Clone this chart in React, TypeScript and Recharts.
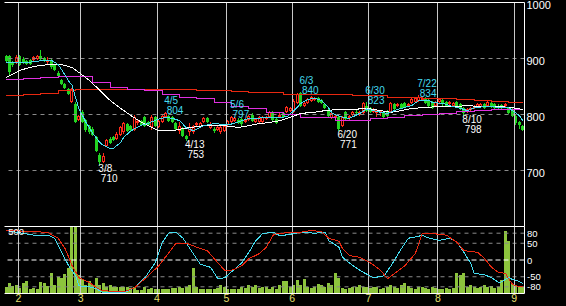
import React from 'react';
import {
  ComposedChart,
  Bar,
  Line,
  XAxis,
  YAxis,
  ReferenceLine,
  ReferenceDot
} from 'recharts';

// daily candles, late Jan .. early Sep
const opens = [
  904, 904, 893, 893, 904, 900, 896, 897, 898, 900,
  905, 901, 893, 898, 888, 875, 861, 855, 846, 822,
  818, 791, 805, 790, 780, 775, 760, 728, 716, 744,
  757, 760, 757, 763, 768, 783, 780, 773, 784, 789,
  795, 786, 778, 796, 778, 786, 795, 798, 796, 784,
  770, 775, 762, 768, 768, 782, 778, 786, 794, 776,
  775, 772, 768, 770, 781, 787, 789, 791, 792, 787,
  790, 799, 786, 787, 787, 793, 796, 804, 792, 795,
  803, 805, 806, 805, 820, 838, 816, 820, 824, 826,
  830, 826, 819, 807, 794, 793, 796, 780, 805, 793,
  800, 805, 800, 802, 816, 812, 804, 802, 802, 804,
  806, 805, 818, 815, 819, 820, 815, 820, 823, 824,
  826, 830, 826, 822, 815, 822, 826, 822, 818, 815,
  822, 818, 811, 804, 808, 812, 814, 813, 818, 815,
  820, 818, 816, 817, 815, 812, 810, 797, 786, 780
];
const highs = [
  907, 906, 896, 907, 906, 903, 898, 899, 904, 907,
  916, 903, 903, 900, 890, 877, 864, 857, 848, 847,
  822, 800, 808, 792, 782, 777, 762, 731, 732, 756,
  759, 762, 768, 779, 786, 785, 782, 800, 791, 791,
  797, 788, 800, 798, 791, 800, 804, 800, 798, 786,
  786, 777, 764, 784, 782, 787, 787, 795, 796, 786,
  777, 780, 780, 782, 791, 797, 796, 793, 794, 793,
  800, 802, 794, 797, 797, 798, 806, 806, 794, 802,
  805, 816, 814, 827, 839, 840, 823, 830, 833, 832,
  832, 828, 821, 809, 804, 800, 798, 797, 807, 799,
  806, 808, 807, 822, 823, 814, 812, 810, 808, 806,
  808, 822, 820, 820, 821, 822, 821, 829, 832, 834,
  832, 832, 828, 824, 825, 830, 828, 824, 824, 822,
  824, 820, 813, 812, 814, 817, 821, 820, 820, 824,
  822, 820, 818, 819, 820, 814, 812, 799, 788, 782
];
const lows = [
  893, 870, 885, 891, 887, 891, 889, 888, 896, 898,
  897, 894, 891, 882, 878, 866, 853, 846, 835, 820,
  784, 788, 785, 769, 766, 761, 733, 710, 713, 742,
  747, 753, 755, 761, 766, 769, 771, 770, 782, 780,
  778, 779, 772, 777, 776, 784, 793, 786, 784, 773,
  765, 760, 753, 762, 766, 780, 776, 784, 784, 774,
  767, 770, 765, 768, 779, 785, 787, 783, 778, 785,
  788, 787, 784, 785, 785, 791, 794, 788, 783, 793,
  794, 803, 804, 803, 818, 814, 814, 818, 822, 824,
  821, 818, 810, 796, 792, 791, 771, 778, 790, 791,
  798, 801, 798, 800, 805, 803, 802, 795, 798, 794,
  796, 803, 808, 813, 809, 811, 813, 818, 821, 822,
  824, 818, 813, 810, 813, 820, 816, 813, 816, 813,
  811, 808, 798, 802, 806, 810, 812, 811, 810, 813,
  812, 810, 810, 810, 813, 801, 796, 782, 775, 770
];
const closes = [
  895, 876, 888, 902, 889, 893, 891, 890, 902, 905,
  899, 896, 897, 884, 880, 868, 855, 848, 837, 845,
  787, 798, 787, 772, 768, 764, 735, 716, 726, 754,
  750, 755, 766, 777, 784, 771, 773, 795, 789, 782,
  780, 781, 795, 779, 789, 798, 803, 788, 786, 775,
  780, 762, 757, 778, 780, 785, 785, 793, 786, 783,
  771, 778, 778, 780, 789, 796, 794, 785, 783, 791,
  798, 789, 792, 795, 795, 796, 804, 790, 785, 800,
  796, 814, 812, 825, 837, 816, 821, 828, 831, 830,
  823, 820, 812, 798, 802, 798, 775, 795, 792, 797,
  804, 803, 805, 820, 807, 805, 810, 808, 806, 796,
  798, 820, 810, 818, 811, 813, 819, 827, 830, 832,
  830, 820, 815, 812, 823, 828, 818, 815, 822, 820,
  813, 810, 803, 810, 812, 815, 819, 818, 812, 822,
  814, 812, 812, 812, 818, 803, 798, 784, 781, 773
];
const volumes = [
  52, 82, 57, 60, 40, 75, 90, 32, 40, 35,
  87, 75, 57, 150, 67, 124, 112, 142, 187, 500,
  500, 137, 107, 60, 90, 60, 117, 60, 75, 45,
  60, 45, 52, 52, 52, 45, 40, 45, 25, 25,
  45, 35, 40, 35, 32, 32, 35, 32, 40, 40,
  45, 40, 45, 60, 187, 45, 32, 32, 35, 32,
  32, 40, 67, 45, 32, 35, 32, 32, 45, 40,
  60, 45, 60, 40, 52, 45, 32, 45, 35, 67,
  90, 90, 52, 60, 100, 60, 107, 45, 40, 45,
  70, 60, 52, 75, 60, 150, 112, 40, 35, 40,
  50, 45, 60, 52, 45, 40, 52, 45, 32, 40,
  45, 60, 45, 40, 60, 75, 55, 40, 35, 45,
  45, 40, 35, 45, 40, 35, 35, 40, 35, 40,
  150, 140, 150, 50, 60, 45, 40, 45, 60, 50,
  55, 40, 45, 100, 465, 390, 72, 60, 50, 45
];

// moving averages as [day, price]
const shortMa: [number, number][] = [
  [0, 893], [5, 892], [10, 896], [13, 897], [15, 889], [16, 880], [17, 870],
  [18, 860], [19, 852], [20, 830], [21, 810], [23, 786], [25, 766], [27, 750],
  [28, 745], [30, 739], [31, 740], [33, 750], [34, 760], [36, 771], [39, 781],
  [41, 784], [42, 787], [44, 792], [46, 795], [48, 793], [50, 789], [52, 776],
  [54, 771], [57, 780], [60, 784], [63, 782], [65, 783], [67, 787], [70, 793],
  [72, 793], [75, 795], [79, 795], [81, 796], [83, 807], [85, 820], [87, 827],
  [89, 829], [91, 825], [93, 812], [94, 802], [97, 795], [99, 793], [102, 802],
  [104, 810], [106, 807], [108, 804], [110, 802], [112, 807], [114, 811],
  [117, 816], [119, 825], [122, 825], [123, 821], [126, 820], [129, 814],
  [131, 811], [133, 807], [135, 812], [138, 814], [140, 814], [143, 812],
  [145, 812], [146, 807], [148, 798], [149, 789]
];
const midMa: [number, number][] = [
  [0, 866], [4, 879], [8, 886], [12, 889], [16, 889], [19, 884], [21, 875],
  [24, 861], [27, 843], [30, 825], [33, 811], [36, 798], [39, 786], [42, 777],
  [44, 771], [48, 771], [51, 775], [57, 780], [63, 780], [67, 777], [70, 780],
  [73, 784], [75, 785], [79, 789], [82, 795], [85, 802], [89, 804], [92, 807],
  [96, 809], [100, 809], [104, 811], [108, 807], [111, 804], [114, 807],
  [117, 811], [120, 812], [124, 814], [129, 814], [133, 816], [137, 814],
  [143, 814], [146, 812], [149, 809]
];
const longMa: [number, number][] = [
  [0, 862], [5, 864], [10, 866], [15, 868], [20, 867], [25, 858], [30, 849],
  [35, 845], [40, 842], [45, 836], [50, 831], [55, 828], [60, 822], [65, 815],
  [70, 810], [75, 804], [80, 800], [85, 795], [90, 794], [95, 789], [100, 789],
  [105, 792], [110, 795], [115, 798], [120, 800], [125, 802], [130, 805],
  [135, 807], [140, 809], [145, 809], [149, 809]
];
const trendMa: [number, number][] = [
  [0, 834], [5, 836], [10, 838], [15, 842], [20, 845], [25, 845], [30, 845],
  [35, 845], [40, 845], [45, 845], [50, 845], [55, 843], [60, 843], [65, 841],
  [70, 840], [75, 839], [80, 836], [85, 836], [90, 836], [95, 836], [100, 834],
  [105, 834], [110, 831], [115, 830], [120, 829], [125, 828], [130, 827],
  [135, 825], [140, 823], [145, 822], [149, 821]
];

// oscillators (-100..100)
const rciShort: [number, number][] = [
  [0, 88], [8, 74], [12, 74], [14, 65], [16, 23], [18, -17], [20, -47],
  [21, -77], [24, -80], [26, -86], [28, -98], [34, -98], [37, -83], [40, -53],
  [43, -8], [45, 52], [47, 82], [49, 83], [51, 65], [53, 34], [56, -13],
  [59, -22], [61, -56], [63, -53], [66, -26], [68, -8], [70, 23], [72, 58],
  [74, 79], [77, 83], [79, 72], [82, 77], [85, 83], [89, 80], [92, 83],
  [93, 58], [96, 38], [97, 8], [100, -17], [103, -37], [106, -53], [109, -47],
  [111, -17], [114, 34], [116, 65], [119, 71], [120, 74], [122, 65], [125, 59],
  [128, 65], [130, 53], [132, 23], [134, -10], [135, -40], [138, -44],
  [140, -53], [142, -67], [143, -65], [144, -58], [145, -52], [146, -58],
  [147, -60], [149, -70]
];
const rciLong: [number, number][] = [
  [0, 88], [8, 85], [12, 82], [15, 65], [17, 34], [19, -17], [21, -53],
  [24, -67], [27, -89], [31, -95], [34, -95], [37, -83], [41, -47], [44, -17],
  [47, 23], [49, 50], [52, 50], [55, 38], [58, 28], [60, 4], [63, -31],
  [65, -31], [68, -17], [70, 4], [73, 19], [75, 38], [77, 74], [78, 79],
  [79, 80], [85, 83], [88, 88], [91, 85], [93, 65], [96, 56], [97, 34],
  [99, 13], [102, 8], [105, -8], [108, -31], [110, -56], [112, -40],
  [115, -17], [118, 19], [120, 79], [123, 79], [127, 74], [130, 53], [132, 28],
  [136, 23], [138, 4], [140, -22], [142, -37], [144, -40], [145, -57],
  [146, -72], [147, -77], [149, -80]
];

const monthStarts = [4, 22, 44, 64, 83, 105, 125, 147];
const monthLabels = ['2', '3', '4', '5', '6', '7', '8', '9'];
const priceTicks = [1000, 900, 800, 700];
const rciTicks = [80, 50, 0, -50, -80];
const volScaleMax = 500;

const highMarks = [
  { i: 46, v: 804, d: '4/5' },
  { i: 65, v: 797, d: '5/6' },
  { i: 85, v: 840, d: '6/3' },
  { i: 104, v: 823, d: '6/30' },
  { i: 119, v: 834, d: '7/22' }
];
const lowMarks = [
  { i: 27, v: 710, d: '3/8' },
  { i: 52, v: 753, d: '4/13' },
  { i: 96, v: 771, d: '6/20' },
  { i: 132, v: 798, d: '8/10' }
];

const FONT = '"Liberation Sans", Arial, sans-serif';
const UP = '#ff2a1a';
const DOWN = '#22d422';
const CYAN = '#44dcf0';
const MAGENTA = '#e030e0';
const TREND = '#e82810';
const VOL = '#8cc43c';
const GRID = '#8a8a8a';
const SEP = '#c8c8c8';

const sparse = (pts: [number, number][]) => {
  const out: (number | null)[] = closes.map(() => null);
  pts.forEach(([i, v]) => {
    out[i] = v;
  });
  return out;
};

const maS = sparse(shortMa);
const maM = sparse(midMa);
const maL = sparse(longMa);
const maT = sparse(trendMa);
const rS = sparse(rciShort);
const rL = sparse(rciLong);

const rows = closes.map((c, i) => ({
  i,
  open: opens[i],
  high: highs[i],
  low: lows[i],
  close: c,
  hl: [lows[i], highs[i]],
  vol: volumes[i],
  maS: maS[i],
  maM: maM[i],
  maL: maL[i],
  maT: maT[i],
  rS: rS[i],
  rL: rL[i]
}));

const Candle = (props: any) => {
  const { x, y, width, height, payload } = props;
  if (!payload || x == null || y == null) return null;
  const { open, close, high, low } = payload;
  const top = Math.min(y, y + height);
  const k = Math.abs(height) / (high - low || 1);
  const py = (v: number) => Math.round(top + (high - v) * k);
  const left = Math.round(x + width / 2 - 1.5);
  const wx = left + 1.5;
  const yHi = py(high);
  const yLo = py(low);
  const bTop = py(Math.max(open, close));
  const bBot = py(Math.min(open, close));
  if (close >= open) {
    const bh = Math.max(2, bBot - bTop);
    return (
      <g shapeRendering="crispEdges">
        {yHi < bTop && <line x1={wx} x2={wx} y1={yHi} y2={bTop} stroke={UP} />}
        {bTop + bh < yLo && <line x1={wx} x2={wx} y1={bTop + bh} y2={yLo} stroke={UP} />}
        <rect x={left + 0.5} y={bTop + 0.5} width={2} height={bh - 1} fill="#000" stroke={UP} />
      </g>
    );
  }
  const bh = Math.max(1, bBot - bTop);
  return (
    <g shapeRendering="crispEdges">
      <line x1={wx} x2={wx} y1={yHi} y2={yLo} stroke={DOWN} />
      <rect x={left} y={bTop} width={3} height={bh} fill={DOWN} />
    </g>
  );
};

const VolBar = (props: any) => {
  const { x, y, width, height } = props;
  if (!height || x == null) return null;
  const left = Math.round(x + width / 2 - 1.5);
  const t = Math.round(y);
  const b = Math.round(y + height);
  return <rect x={left} y={t} width={3} height={Math.max(1, b - t)} fill={VOL} shapeRendering="crispEdges" />;
};

const priceTick = (p: any) => (
  <text x={p.x + 2} y={p.y + 6} fill="#fff" fontSize={11} fontFamily={FONT}>
    {p.payload.value}
  </text>
);

const rciTick = (p: any) => (
  <text x={p.x + 2.5} y={p.y + 3.5} fill="#fff" fontSize={9.5} fontFamily={FONT}>
    {p.payload.value}
  </text>
);

const volLabel = (p: any) => (
  <text x={p.cx + 2} y={p.cy + 8} fill="#fff" fontSize={9.5} fontFamily={FONT}>
    {volScaleMax}
  </text>
);

const monthTick = (p: any) => {
  const idx = monthStarts.indexOf(p.payload.value);
  return (
    <text
      x={p.x - (p.payload.offset || 0)}
      y={p.y + 8.5}
      fill="#e8e070"
      fontSize={10.5}
      fontFamily={FONT}
      textAnchor="middle"
    >
      {monthLabels[idx]}
    </text>
  );
};

const highLabel = (d: string, v: number) => (p: any) => (
  <g>
    <text x={p.cx - 1.5} y={p.cy - 8} fill={CYAN} fontSize={10} fontFamily={FONT}>{d}</text>
    <text x={p.cx + 1} y={p.cy + 2} fill={CYAN} fontSize={10} fontFamily={FONT}>{v}</text>
  </g>
);

const lowLabel = (d: string, v: number) => (p: any) => (
  <g>
    <text x={p.cx - 1.5} y={p.cy + 7.5} fill="#fff" fontSize={10} fontFamily={FONT}>{d}</text>
    <text x={p.cx + 1} y={p.cy + 17.5} fill="#fff" fontSize={10} fontFamily={FONT}>{v}</text>
  </g>
);

const lineProps = {
  strokeWidth: 1,
  dot: false,
  connectNulls: true,
  isAnimationActive: false,
  shapeRendering: 'crispEdges'
} as any;

export default function App() {
  return (
    <div style={{ position: 'absolute', left: 0, top: 0, width: 566, height: 306, background: '#000', overflow: 'hidden' }}>
      <div style={{ position: 'absolute', left: 0, top: 0 }}>
        <ComposedChart
          width={566}
          height={227}
          data={rows}
          margin={{ top: 2.5, right: 0, bottom: 0.5, left: 4.5 }}
          barCategoryGap={0}
        >
          <XAxis dataKey="i" type="category" hide />
          <YAxis
            yAxisId="pl"
            orientation="left"
            width={0}
            type="number"
            domain={[600, 1000]}
            tick={false}
            tickLine={false}
            axisLine={{ stroke: '#fff' }}
          />
          <YAxis
            yAxisId="p"
            orientation="right"
            width={41.5}
            type="number"
            domain={[600, 1000]}
            ticks={priceTicks}
            interval={0}
            tickLine={false}
            tickSize={0}
            tickMargin={0}
            axisLine={{ stroke: '#fff' }}
            tick={priceTick}
            allowDataOverflow
          />
          {priceTicks.slice(1).map((v) => (
            <ReferenceLine key={'g' + v} yAxisId="p" y={v} stroke={GRID} strokeDasharray="4 4" />
          ))}
          <ReferenceLine yAxisId="p" y={1000} stroke="#fff" />
          {monthStarts.map((m) => (
            <ReferenceLine key={'m' + m} yAxisId="p" x={m} position="start" stroke={SEP} shapeRendering="crispEdges" />
          ))}
          <Bar yAxisId="p" dataKey="hl" shape={Candle} isAnimationActive={false} />
          <Line yAxisId="p" dataKey="maT" type="stepAfter" stroke={TREND} {...lineProps} />
          <Line yAxisId="p" dataKey="maL" type="stepAfter" stroke={MAGENTA} {...lineProps} />
          <Line yAxisId="p" dataKey="maM" type="linear" stroke="#fff" {...lineProps} />
          <Line yAxisId="p" dataKey="maS" type="linear" stroke={CYAN} {...lineProps} />
          {highMarks.map((m) => (
            <ReferenceDot key={'h' + m.i} yAxisId="p" x={m.i} y={m.v} r={0} shape={highLabel(m.d, m.v)} />
          ))}
          {lowMarks.map((m) => (
            <ReferenceDot key={'l' + m.i} yAxisId="p" x={m.i} y={m.v} r={0} shape={lowLabel(m.d, m.v)} />
          ))}
        </ComposedChart>
      </div>
      <div style={{ position: 'absolute', left: 0, top: 226 }}>
        <ComposedChart
          width={566}
          height={80}
          data={rows}
          margin={{ top: 0.5, right: 0, bottom: 0, left: 4.5 }}
          barCategoryGap={0}
        >
          <XAxis
            dataKey="i"
            type="category"
            height={12.5}
            ticks={monthStarts}
            interval={0}
            tickLine={false}
            tickSize={0}
            tickMargin={0}
            axisLine={{ stroke: '#fff' }}
            tick={monthTick}
          />
          <YAxis
            yAxisId="vol"
            orientation="left"
            width={0}
            type="number"
            domain={[0, volScaleMax]}
            tick={false}
            tickLine={false}
            axisLine={{ stroke: '#fff' }}
            allowDataOverflow
          />
          <YAxis
            yAxisId="rci"
            orientation="right"
            width={41.5}
            type="number"
            domain={[-100, 100]}
            ticks={rciTicks}
            interval={0}
            tickLine={false}
            tickSize={0}
            tickMargin={0}
            axisLine={{ stroke: '#fff' }}
            tick={rciTick}
            allowDataOverflow
          />
          {rciTicks.map((v) => (
            <ReferenceLine
              key={'r' + v}
              yAxisId="rci"
              y={v}
              stroke={v === 0 ? '#fff' : GRID}
              strokeDasharray={v === 0 ? '5 3' : '4 4'}
            />
          ))}
          <ReferenceLine yAxisId="rci" y={100} stroke="#fff" />
          {monthStarts.map((m) => (
            <ReferenceLine key={'s' + m} yAxisId="rci" x={m} position="start" stroke={SEP} shapeRendering="crispEdges" />
          ))}
          <ReferenceDot yAxisId="vol" x={0} y={volScaleMax} r={0} shape={volLabel} />
          <Bar yAxisId="vol" dataKey="vol" shape={VolBar} isAnimationActive={false} />
          <Line yAxisId="rci" dataKey="rS" type="linear" stroke={CYAN} {...lineProps} />
          <Line yAxisId="rci" dataKey="rL" type="linear" stroke={TREND} {...lineProps} />
        </ComposedChart>
      </div>
    </div>
  );
}
